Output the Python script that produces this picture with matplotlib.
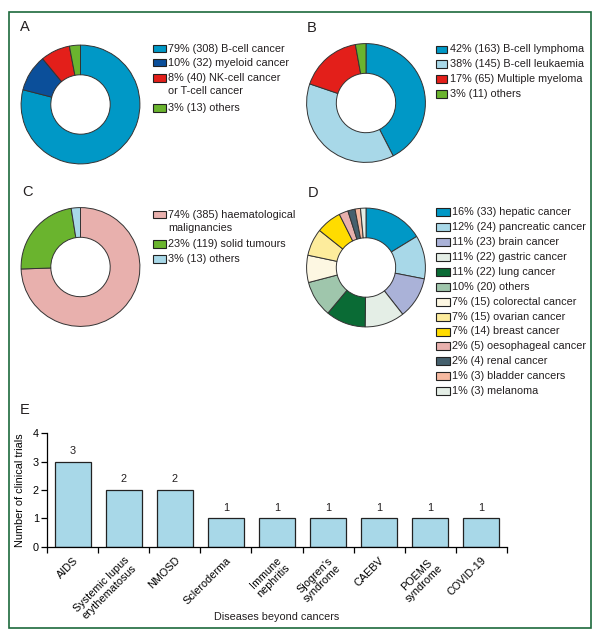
import matplotlib
matplotlib.use('Agg')
import matplotlib.pyplot as plt
from matplotlib import font_manager
from matplotlib.patches import Rectangle

names = {f.name for f in font_manager.fontManager.ttflist}
if 'Liberation Sans Narrow' in names:
    plt.rcParams['font.family'] = ['Liberation Sans Narrow', 'DejaVu Sans']
else:
    plt.rcParams['font.family'] = ['Liberation Sans', 'DejaVu Sans']

FS = 7.8

# ---- data ----
a_labels = ['79% (308) B-cell cancer', '10% (32) myeloid cancer',
            '8% (40) NK-cell cancer\nor T-cell cancer', '3% (13) others']
a_pct = [79, 10, 8, 3]
a_colors = ['#0098c6', '#0b4f9a', '#e31f1a', '#6ab42e']

b_labels = ['42% (163) B-cell lymphoma', '38% (145) B-cell leukaemia',
            '17% (65) Multiple myeloma', '3% (11) others']
b_counts = [163, 145, 65, 11]
b_colors = ['#0098c6', '#a8d8e8', '#e31f1a', '#6ab42e']

c_labels = ['74% (385) haematological\nmalignancies', '23% (119) solid tumours',
            '3% (13) others']
c_counts = [385, 119, 13]
c_colors = ['#e8b0ad', '#6ab42e', '#a8d8e8']

d_labels = ['16% (33) hepatic cancer', '12% (24) pancreatic cancer',
            '11% (23) brain cancer', '11% (22) gastric cancer',
            '11% (22) lung cancer', '10% (20) others',
            '7% (15) colorectal cancer', '7% (15) ovarian cancer',
            '7% (14) breast cancer', '2% (5) oesophageal cancer',
            '2% (4) renal cancer', '1% (3) bladder cancers', '1% (3) melanoma']
d_counts = [33, 24, 23, 22, 22, 20, 15, 15, 14, 5, 4, 3, 3]
d_colors = ['#0098c6', '#a8d8e8', '#aab2d8', '#e4eee6', '#0a6b35', '#9fc6ac',
            '#fdf7e2', '#fdec9c', '#ffdc00', '#e8b0ad', '#45606d', '#f6b9a0',
            '#e4eee6']

e_diseases = ['AIDS', 'Systemic lupus\nerythematosus', 'NMOSD', 'Scleroderma',
              'Immune\nnephritis', "Sjogren's\nsyndrome", 'CAEBV',
              'POEMS\nsyndrome', 'COVID-19']
e_trials = [3, 2, 2, 1, 1, 1, 1, 1, 1]

W, H = 599, 638
fig = plt.figure(figsize=(W / 100, H / 100), dpi=100)


def box(x0, y0, w, h):
    return [x0 / W, 1 - (y0 + h) / H, w / W, h / H]


def donut(cx, cy, r, sizes, colors):
    ax = fig.add_axes(box(cx - r, cy - r, 2 * r, 2 * r))
    ax.pie(sizes, colors=colors, startangle=90, counterclock=False,
           radius=1, wedgeprops=dict(width=0.5, edgecolor='#333333', linewidth=0.7))
    ax.set_xlim(-1.01, 1.01)
    ax.set_ylim(-1.01, 1.01)
    ax.set_aspect('equal')
    return ax


def legend(x, rows_y, labels, colors, pw=13, ph=7.5, tx=None):
    if tx is None:
        tx = x + pw + 3
    for y, lab, col in zip(rows_y, labels, colors):
        fig.patches.append(Rectangle((x / W, 1 - (y + ph / 2) / H), pw / W, ph / H,
                                     transform=fig.transFigure, facecolor=col,
                                     edgecolor='#222222', linewidth=0.8))
        fig.text(tx / W, 1 - (y - 5.0) / H, lab, fontsize=FS, va='top', ha='left',
                 linespacing=1.42, color='#231f20')


# panel letters
for lab, x, y in [('A', 20, 27), ('B', 307, 28), ('C', 22, 192), ('D', 308, 193), ('E', 20, 410)]:
    fig.text(x / W, 1 - y / H, lab, fontsize=10.5, va='center', ha='left', color='#231f20')

donut(80.5, 104.5, 60, a_pct, a_colors)
legend(152.5, [48.5, 62.7, 78.0, 107.8], a_labels, a_colors)

donut(366, 103, 60, b_counts, b_colors)
legend(436, [49.5, 64.2, 79, 94], b_labels, b_colors, pw=11)

donut(80.5, 267, 60, c_counts, c_colors)
legend(152.5, [214.5, 244, 259], c_labels, c_colors)

donut(366, 267.5, 60, d_counts, d_colors)
d_rows = [212.3 + 14.9 * i for i in range(len(d_labels))]
legend(435.5, d_rows, d_labels, d_colors, pw=14.5, ph=8, tx=452)

# panel E
ax = fig.add_axes(box(47.3, 433.3, 459.4, 113.4))
xs = range(len(e_diseases))
ax.bar(xs, e_trials, width=0.7, color='#a8d8e8', edgecolor='#222222', linewidth=0.9)
for xi, v in zip(xs, e_trials):
    ax.annotate(str(v), (xi, v), xytext=(0, 4), textcoords='offset points',
                ha='center', va='bottom', fontsize=FS, color='#231f20')
ax.set_xlim(-0.5, len(e_diseases) - 0.5)
ax.set_ylim(0, 4)
ax.set_yticks([0, 1, 2, 3, 4])
ax.set_xticks([i - 0.5 for i in range(len(e_diseases) + 1)])
ax.set_xticklabels([])
ax.set_xticks(list(xs), minor=True)
ax.set_xticklabels(e_diseases, minor=True, rotation=45, ha='right', va='top',
                   rotation_mode='anchor', fontsize=FS, linespacing=1.1,
                   multialignment='center')
ax.tick_params(axis='x', which='minor', length=0, pad=6)
ax.tick_params(axis='x', which='major', length=4, width=0.9, direction='out')
ax.tick_params(axis='y', length=4, width=0.9, direction='out', labelsize=FS, pad=2)
for s in ['top', 'right']:
    ax.spines[s].set_visible(False)
for s in ['left', 'bottom']:
    ax.spines[s].set_linewidth(0.9)
ax.set_ylabel('Number of clinical trials', fontsize=FS, labelpad=6)
fig.text(0.5 * (47.3 + 506.7) / W, 1 - 617 / H, 'Diseases beyond cancers',
         fontsize=FS, ha='center', va='center', color='#231f20')

# outer frame
fig.patches.append(Rectangle((9 / W, 1 - 628 / H), 581.5 / W, 616.5 / H,
                             transform=fig.transFigure, fill=False,
                             edgecolor='#1d6a3c', linewidth=1.2))

fig.savefig('out.png', dpi=100)
